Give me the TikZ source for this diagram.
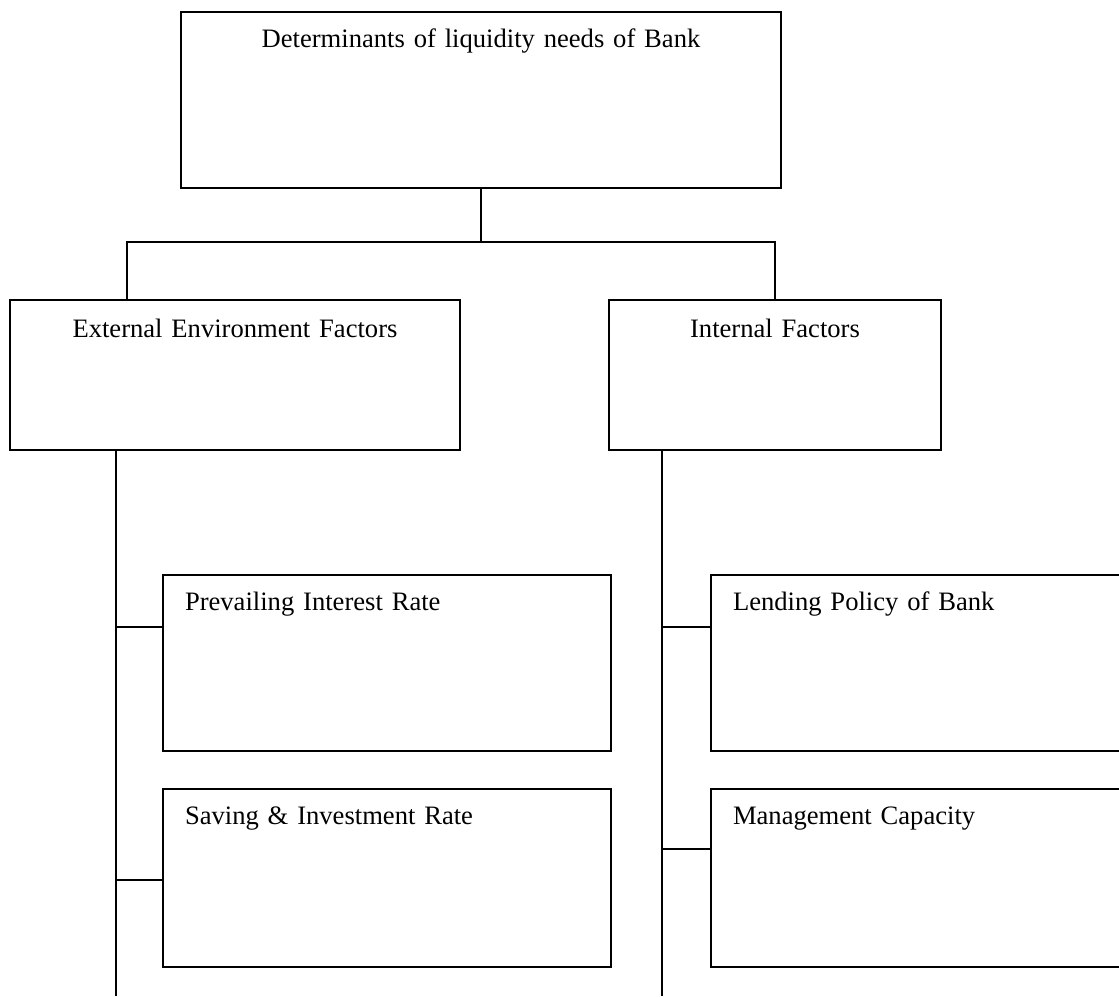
\documentclass[tikz,border=0pt]{standalone}
\usepackage{fontspec}
\setmainfont{Liberation Serif}

\begin{document}
\begin{tikzpicture}[x=0.44pt, y=-0.44pt, line width=0.8pt,
    font=\fontsize{11.7}{14}\selectfont,
    box/.style={draw, rectangle, outer sep=0pt, inner ysep=0pt, text height=15.4pt},
    centrebox/.style={box, anchor=north, inner xsep=0pt, align=center},
    leftbox/.style={box, anchor=north west, inner xsep=9.68pt, text width=177.76pt, align=left}
]

    \useasboundingbox (0,0) rectangle (1119,996);

    % top level
    \node[centrebox, text width=264pt, text depth=62.04pt] (root) at (481,12)
        {Determinants of liquidity needs of Bank};

    % second level
    \node[centrebox, text width=198pt, text height=16.3pt, text depth=49.7pt] (ext) at (235,300)
        {External Environment Factors};
    \node[centrebox, text width=146.08pt, text height=16.3pt, text depth=49.7pt] (int) at (775,300)
        {Internal Factors};

    % third level
    \node[leftbox, text depth=62.04pt] (rate) at (163,575) {Prevailing Interest Rate};
    \node[leftbox, text depth=62.92pt] (saving) at (163,789) {Saving \& Investment Rate};
    \node[leftbox, text depth=62.04pt] (lending) at (711,575) {Lending Policy of Bank};
    \node[leftbox, text depth=62.92pt] (capacity) at (711,789) {Management Capacity};

    \coordinate (extIn) at (127,300);
    \coordinate (extEnd) at (116,996);
    \coordinate (intEnd) at (662,996);

    \draw (root.south) -- (root.south |- 0,242) -| (extIn);
    \draw (root.south |- 0,242) -| (int.north);

    \draw (ext.south -| extEnd) -- (extEnd);
    \draw (int.south -| intEnd) -- (intEnd);

    \draw (extEnd |- 0,627) -- (rate.west |- 0,627);
    \draw (extEnd |- 0,880) -- (saving.west |- 0,880);
    \draw (intEnd |- 0,627) -- (lending.west |- 0,627);
    \draw (intEnd |- 0,849) -- (capacity.west |- 0,849);

\end{tikzpicture}
\end{document}
